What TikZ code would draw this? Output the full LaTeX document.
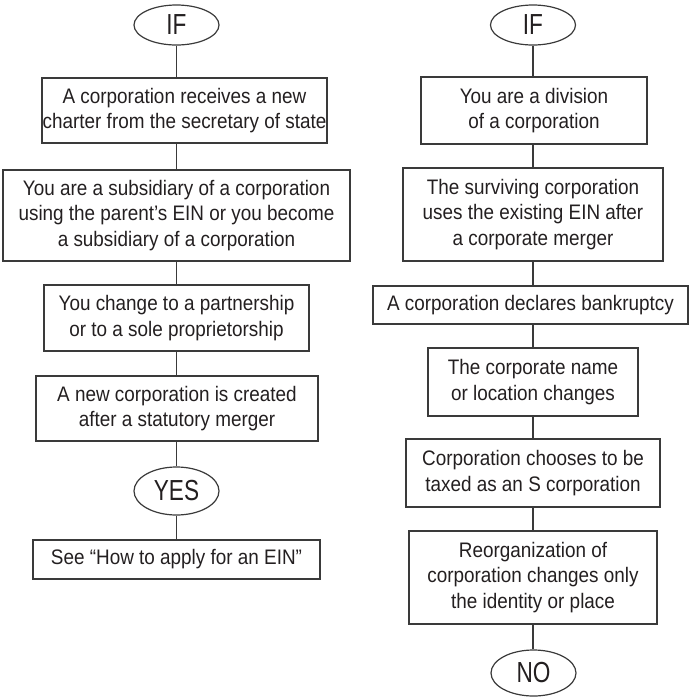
\documentclass[tikz,border=0pt]{standalone}
\usepackage{fontspec}
\setmainfont{Liberation Sans}
\newfontfamily\bodyfont[FakeStretch=0.9]{Liberation Sans}
\newfontfamily\condfont[FakeStretch=0.78]{Liberation Sans}
\usetikzlibrary{shapes.geometric}
\definecolor{ink}{HTML}{231F20}
\definecolor{edge}{HTML}{3A3A3A}
\tikzset{
  stepbox/.style={draw=edge, line width=1.2pt, rectangle, inner sep=0pt, align=center,
    text=ink, font=\bodyfont\fontsize{21}{25.5}\selectfont},
  term/.style={draw=edge, line width=1.2pt, ellipse, inner sep=0pt, text=ink,
    font=\condfont\fontsize{29}{30}\selectfont},
  link/.style={draw=edge, line width=1.2pt}
}
\begin{document}
\begin{tikzpicture}[x=1pt,y=-1pt]
\useasboundingbox (0,0) rectangle (690,697);
% left column
\node[term, minimum width=85pt, minimum height=40pt] (if1) at (176.5,25) {IF};
\node[stepbox, minimum width=285pt, minimum height=65pt] (l1) at (184.5,110.5)
  {A corporation receives a new\\charter from the secretary of state};
\node[stepbox, minimum width=347pt, minimum height=91pt] (l2) at (176.5,215.5)
  {You are a subsidiary of a corporation\\using the parent’s EIN or you become\\a subsidiary of a corporation};
\node[stepbox, minimum width=265pt, minimum height=66pt] (l3) at (176.5,318)
  {You change to a partnership\\or to a sole proprietorship};
\node[stepbox, minimum width=282pt, minimum height=65pt] (l4) at (177,408.5)
  {A new corporation is created\\after a statutory merger};
\node[term, minimum width=85pt, minimum height=48pt] (yes) at (176.5,491) {YES};
\node[stepbox, minimum width=287pt, minimum height=39pt] (l5) at (176.5,559.5)
  {See “How to apply for an EIN”};
% right column
\node[term, minimum width=85pt, minimum height=40pt] (if2) at (533,25) {IF};
\node[stepbox, minimum width=226pt, minimum height=67pt] (r1) at (534,110.5)
  {You are a division\\of a corporation};
\node[stepbox, minimum width=260pt, minimum height=93pt] (r2) at (533,214.5)
  {The surviving corporation\\uses the existing EIN after\\a corporate merger};
\node[stepbox, minimum width=315pt, minimum height=38pt] (r3) at (530.5,305)
  {A corporation declares bankruptcy};
\node[stepbox, minimum width=210pt, minimum height=68pt] (r4) at (533,382)
  {The corporate name\\or location changes};
\node[stepbox, minimum width=254pt, minimum height=68pt] (r5) at (533,473)
  {Corporation chooses to be\\taxed as an S corporation};
\node[stepbox, minimum width=248pt, minimum height=93pt] (r6) at (533,577.5)
  {Reorganization of\\corporation changes only\\the identity or place};
\node[term, minimum width=85pt, minimum height=46pt] (no) at (533.5,673) {NO};
% connectors left
\draw[link] (if1.south) -- (if1.south |- l1.north);
\draw[link] (l1.south -| if1.center) -- (l2.north -| if1.center);
\draw[link] (l2.south -| if1.center) -- (l3.north -| if1.center);
\draw[link] (l3.south -| if1.center) -- (l4.north -| if1.center);
\draw[link] (l4.south -| if1.center) -- (yes.north);
\draw[link] (yes.south) -- (l5.north -| yes.center);
% connectors right
\draw[link] (if2.south) -- (if2.south |- r1.north);
\draw[link] (r1.south -| if2.center) -- (r2.north -| if2.center);
\draw[link] (r2.south -| if2.center) -- (r3.north -| if2.center);
\draw[link] (r3.south -| if2.center) -- (r4.north -| if2.center);
\draw[link] (r4.south -| if2.center) -- (r5.north -| if2.center);
\draw[link] (r5.south -| if2.center) -- (r6.north -| if2.center);
\draw[link] (r6.south -| if2.center) -- (no.north -| if2.center);
\end{tikzpicture}
\end{document}
